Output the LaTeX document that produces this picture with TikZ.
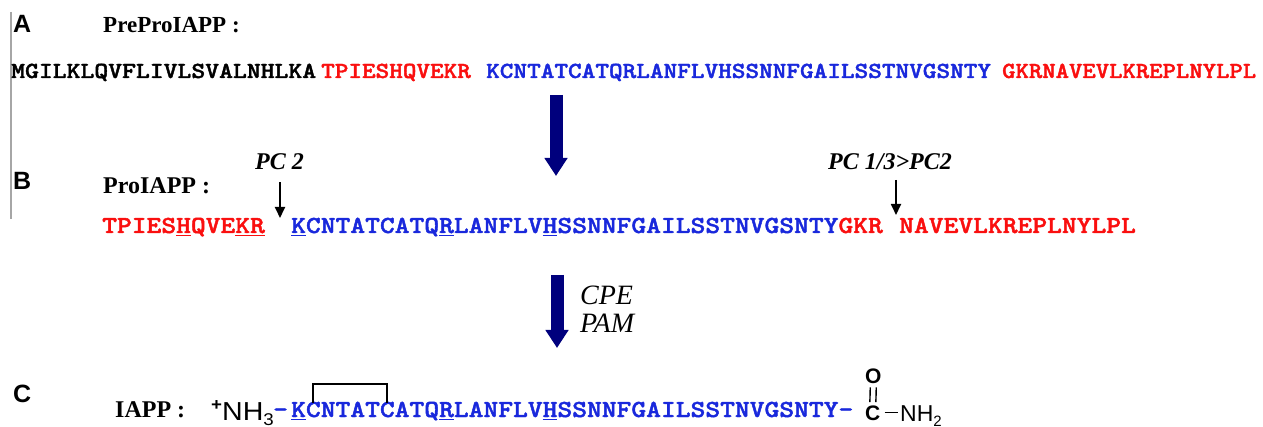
\documentclass[tikz,border=0pt]{standalone}
\usepackage{fontspec}
\setmainfont{Liberation Serif}
\setsansfont{Liberation Sans}
\newfontfamily\seqfont{lmmonolt10-bold.otf}[FakeBold=1.6]
\usetikzlibrary{arrows.meta}
\definecolor{seqred}{RGB}{250,15,15}
\definecolor{seqblue}{RGB}{25,40,220}
\definecolor{navyarrow}{RGB}{0,0,125}
% residue sequence in heavy monospace, stretched horizontally
\newcommand\seqtxt[3]{\scalebox{#1}[1]{\seqfont\fontsize{#2}{#2}\selectfont #3}}
% underlined residue
\newcommand\uc[1]{\rlap{\rule[-3pt]{0.525em}{1.3pt}}#1}
\begin{document}
\begin{tikzpicture}[x=1pt,y=-1pt,
  txt/.style={inner sep=0pt,anchor=base west},
  panel/.style={txt,font=\sffamily\bfseries\fontsize{25}{25}\selectfont},
  title/.style={txt,font=\bfseries\fontsize{24}{24}\selectfont},
  enzyme/.style={txt,font=\bfseries\itshape\fontsize{24}{24}\selectfont},
  step2/.style={txt,font=\itshape\fontsize{28}{28}\selectfont},
  chem/.style={txt,font=\sffamily\fontsize{26}{26}\selectfont},
  chembold/.style={txt,font=\sffamily\bfseries\fontsize{21}{21}\selectfont},
  cutarrow/.style={line width=1.8pt,-{Triangle[width=10pt,length=11pt]}},
  bigarrow/.style={navyarrow,line width=13pt,-{Triangle[width=22pt,length=18pt]}},
  bond/.style={line width=2.4pt},
  bondline/.style={line width=1.4pt}]
\fill[white] (0,0) rectangle (1263,427);
\useasboundingbox (0,0) rectangle (1263,427);

% left margin rule
\coordinate (vtop) at (11,12);
\coordinate (vbot) at (11,219);
\draw[gray!70,line width=1.3pt] (vtop) -- (vbot);

% panel A : PreProIAPP
\node[panel] (lA) at (13,33) {A};
\node[title,font=\bfseries\fontsize{23}{23}\selectfont] (tA) at (103,33) {PreProIAPP :};
\node[txt] (a1) at (11,78) {\seqtxt{1.148}{23}{MGILKLQVFLIVLSVALNHLKA}};
\node[txt,text=seqred] (a2) at (321,78) {\seqtxt{1.127}{23}{TPIESHQVEKR}};
\node[txt,text=seqblue] (a3) at (486,78) {\seqtxt{1.13}{23}{KCNTATCATQRLANFLVHSSNNFGAILSSTNVGSNTY}};
\node[txt,text=seqred] (a4) at (1002,78) {\seqtxt{1.107}{23}{GKRNAVEVLKREPLNYLPL}};

% processing to ProIAPP
\coordinate (big1s) at (556,95);
\coordinate (big1e) at (556,176);
\draw[bigarrow] (big1s) -- (big1e);

% panel B : ProIAPP
\node[panel] (lB) at (13,190) {B};
\node[title] (tB) at (103,194) {ProIAPP :};
\node[enzyme] (pc2) at (255,170) {PC 2};
\node[enzyme] (pc13) at (828,170) {PC 1/3>PC2};
\node[txt,text=seqred] (b1) at (102,233) {\seqtxt{1.15}{24.5}{TPIES\uc{H}QVE\uc{K}\uc{R}}};
\node[txt,text=seqblue] (b2) at (291,233) {\seqtxt{1.15}{24.5}{\uc{K}CNTATCATQ\uc{R}LANFLV\uc{H}SSNNFGAILSSTNVGSNTY\textcolor{seqred}{GKR}}};
\node[txt,text=seqred] (b3) at (899,233) {\seqtxt{1.15}{24.5}{NAVEVLKREPLNYLPL}};

% cleavage sites
\coordinate (pc2tip) at (280,218);
\draw[cutarrow,shorten <=12pt] (pc2.south -| pc2tip) -- (pc2tip);
\coordinate (pc13s) at (896,180);
\coordinate (pc13tip) at (896,215);
\draw[cutarrow] (pc13s) -- (pc13tip);

% processing to IAPP
\coordinate (big2s) at (557,275);
\coordinate (big2e) at (557,348);
\draw[bigarrow] (big2s) -- (big2e);
\node[step2] (cpe) at (580,305) {CPE};
\node[step2] (pam) at (580,333) {PAM};

% panel C : mature IAPP
\node[panel] (lC) at (13,402) {C};
\node[title] (tC) at (115,417) {IAPP :};
\node[chem] (nh3) at (211,420) {\scalebox{1.1}[1]{\raisebox{10pt}{\fontsize{17}{17}\selectfont\bfseries +}NH\raisebox{-5pt}{\fontsize{17}{17}\selectfont 3}}};
\node[txt,text=seqblue] (dash1) at (273,417) {\seqtxt{1.15}{24.5}{-}};
\node[txt,text=seqblue] (c1) at (291,417) {\seqtxt{1.15}{24.5}{\uc{K}CNTATCATQ\uc{R}LANFLV\uc{H}SSNNFGAILSSTNVGSNTY-}};

% disulfide bridge Cys2-Cys7
\coordinate (cys2) at (313,403);
\coordinate (cys7) at (387,403);
\draw[bond] (cys2) -- ++(0,-19) -| (cys7);

% C-terminal amide
\node[chembold] (ox) at (865,383) {O};
\node[chembold] (carb) at (865,420) {C};
\node[txt,font=\sffamily\fontsize{23}{23}\selectfont] (nh2) at (900,421) {NH\raisebox{-5pt}{\fontsize{15}{15}\selectfont 2}};
\draw[bondline,shorten <=4pt,shorten >=3pt] ([xshift=-3pt]ox.south) -- ([xshift=-3pt]carb.north);
\draw[bondline,shorten <=4pt,shorten >=3pt] ([xshift=3pt]ox.south) -- ([xshift=3pt]carb.north);
\draw[bondline,shorten <=4pt,shorten >=2pt] (carb.east) -- (carb.east -| nh2.west);
\end{tikzpicture}
\end{document}
